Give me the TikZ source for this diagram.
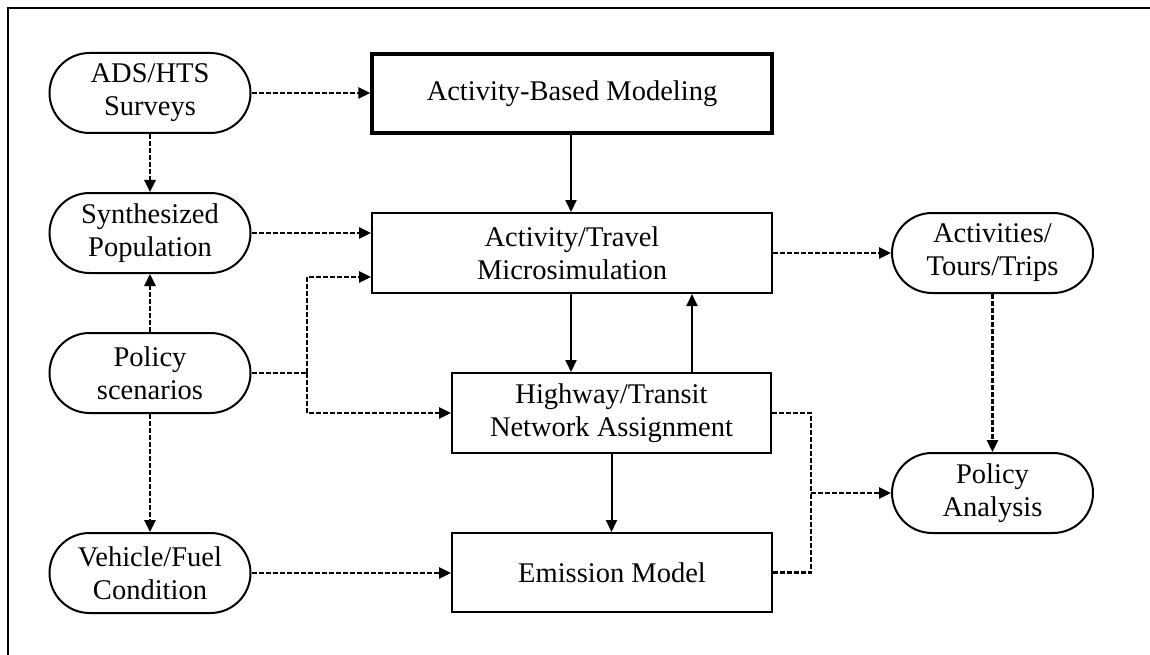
\documentclass[tikz,border=0pt]{standalone}
\usepackage{fontspec}
\setmainfont{Liberation Serif}
\usetikzlibrary{arrows.meta,calc}

\tikzset{
  txt/.style={font=\fontsize{28.5}{33}\selectfont, align=center, inner sep=0pt, text=black},
  box/.style={txt, draw, line width=2pt, minimum width=#1, minimum height=80pt},
  box/.default=400pt,
  pill/.style={txt, draw, line width=2pt, rounded corners=40pt, minimum width=201pt, minimum height=80pt},
  tip/.style={-{Triangle[length=12pt,width=11pt]}},
  solidarr/.style={tip, line width=2pt},
  dasharr/.style={tip, line width=2.6pt, dash pattern=on 5pt off 2pt},
  dashline/.style={line width=2.6pt, dash pattern=on 5pt off 2pt},
}

\begin{document}
\begin{tikzpicture}[x=1pt,y=-1pt]
  \useasboundingbox (0,0) rectangle (1150,655);
  % outer frame (top and left edges)
  \draw[line width=2.5pt] (8,655) -- (8,8) -- (1150,8);

  % inputs on the left
  \node[pill] (ads) at (150,93)  {ADS/HTS\\Surveys};
  \node[pill] (syn) at (150,233) {Synthesized\\Population};
  \node[pill] (pol) at (150,373) {Policy\\scenarios};
  \node[pill] (veh) at (150,573) {Vehicle/Fuel\\Condition};

  % model chain
  \node[box, line width=3.2pt, minimum height=79pt] (abm) at (572,93.5) {Activity-Based Modeling};
  \node[box] (mic) at (572,253) {Activity/Travel\\Microsimulation};
  \node[box=319pt] (hwy) at (611.5,413) {Highway/Transit\\Network Assignment};
  \node[box=320pt, minimum height=79pt] (emi) at (612,572.5) {Emission Model};

  % outputs on the right
  \node[pill] (act) at (992.5,253) {Activities/\\Tours/Trips};
  \node[pill] (pan) at (992.5,493) {Policy\\Analysis};

  % junctions of the dashed branches
  \coordinate (pj) at (307,373);
  \coordinate (rj) at (811,493);

  % data flows (dashed)
  \draw[dasharr] (ads.east) -- (ads.east -| abm.west);
  \draw[dasharr] (ads.south) -- (syn.north);
  \draw[dasharr] (syn.east) -- (syn.east -| mic.west);
  \draw[dasharr] (pol.north) -- (syn.south);
  \draw[dasharr] (pol.south) -- (veh.north);
  \draw[dashline] (pol.east) -- (pj);
  \draw[dasharr] (pj) |- ($(mic.west)+(0,24)$);
  \draw[dasharr] (pj) |- (hwy.west);
  \draw[dasharr] (mic.east) -- (act.west);
  \draw[dasharr] (act.south) -- (pan.north);
  \draw[dashline] (hwy.east) -| (rj);
  \draw[dashline] (emi.east) -| (rj);
  \draw[dasharr] (rj) -- (pan.west);
  \draw[dasharr] (veh.east) -- (veh.east -| emi.west);

  % model links (solid)
  \draw[solidarr] ([xshift=-1pt]abm.south) -- ([xshift=-1pt]mic.north);
  \draw[solidarr] ([xshift=-1pt]mic.south) -- ([xshift=-1pt]mic.south |- hwy.north);
  \draw[solidarr] ([xshift=80.5pt]hwy.north) -- ([xshift=80.5pt]hwy.north |- mic.south);
  \draw[solidarr] (hwy.south) -- (hwy.south |- emi.north);
\end{tikzpicture}
\end{document}
